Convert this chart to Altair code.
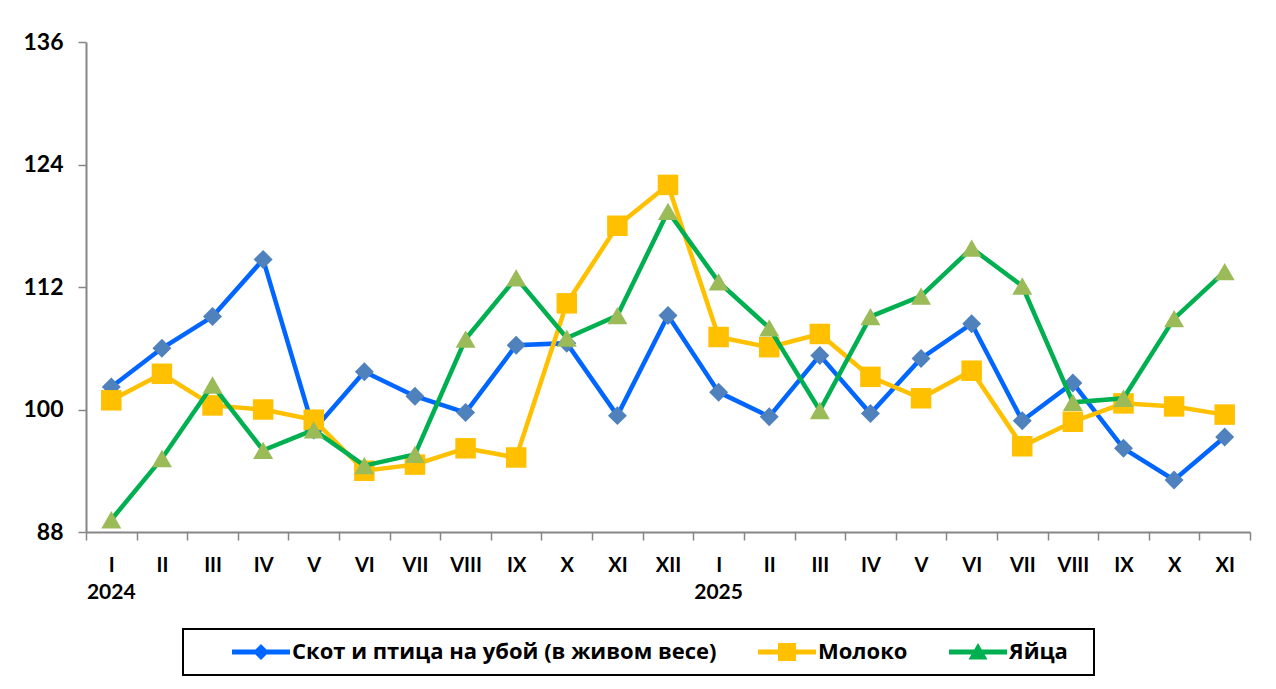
import altair as alt
import pandas as pd

months = ["I", "II", "III", "IV", "V", "VI", "VII", "VIII", "IX", "X", "XI", "XII",
          "I", "II", "III", "IV", "V", "VI", "VII", "VIII", "IX", "X", "XI"]
years = ["2024"] * 12 + ["2025"] * 11

series_names = ["Скот и птица на убой (в живом весе)", "Молоко", "Яйца"]

livestock = [102.2, 106.0, 109.1, 114.7, 98.0, 103.7, 101.3, 99.7, 106.3, 106.5, 99.4, 109.2,
             101.7, 99.3, 105.3, 99.6, 105.0, 108.4, 98.9, 102.6, 96.2, 93.1, 97.3]
milk = [100.9, 103.5, 100.4, 100.0, 99.0, 94.0, 94.6, 96.2, 95.3, 110.4, 118.0, 122.0,
        107.1, 106.1, 107.4, 103.2, 101.1, 103.8, 96.4, 98.8, 100.6, 100.3, 99.5]
eggs = [89.2, 95.2, 102.4, 96.0, 98.0, 94.5, 95.6, 106.9, 112.9, 107.0, 109.2, 119.4,
        112.5, 108.0, 99.9, 109.1, 111.1, 115.8, 112.1, 100.7, 101.1, 108.9, 113.5]

y_ticks = [88, 100, 112, 124, 136]
year_labels = ["2024", "2025"]

line_colors = ["#0066FF", "#FFC000", "#00B050"]
marker_colors = ["#4F81BD", "#FFC000", "#9BBB59"]
marker_shapes = ["diamond", "square", "triangle-up"]
marker_sizes = [360, 420, 400]
legend_paths = [
    "M2.6,-0.25H4.95L5.5,-0.8L6.05,-0.25H8.4V0.25H6.05L5.5,0.8L4.95,0.25H2.6Z",
    "M2.6,-0.25H4.6V-0.9H6.4V-0.25H8.4V0.25H6.4V0.9H4.6V0.25H2.6Z",
    "M2.6,-0.25H5.126L5.5,-0.9L5.874,-0.25H8.4V0.25H6.162L6.45,0.75H4.55L4.838,0.25H2.6Z",
]

keys = [f"{m}|{y}|{i}" for i, (m, y) in enumerate(zip(months, years))]

rows = []
for name, vals in zip(series_names, [livestock, milk, eggs]):
    for k, v in zip(keys, vals):
        rows.append({"key": k, "series": name, "value": v})
df = pd.DataFrame(rows)

year_df = pd.DataFrame({"key": [keys[0], keys[12]], "label": year_labels})

W, H = 1164, 490

x_enc = alt.X(
    "key:O",
    sort=keys,
    bandPosition=0.5,
    scale=alt.Scale(type="band", paddingInner=0, paddingOuter=0),
    axis=alt.Axis(
        title=None,
        labelExpr="datum.value ? split(datum.value, '|')[0] : ''",
        labelAngle=0,
        tickBand="extent",
        ticks=True,
        tickSize=8,
        tickColor="#868686",
        tickWidth=1.5,
        domainColor="#868686",
        domainWidth=2,
        labelFont="Lato",
        labelFontWeight="bold",
        labelFontSize=20,
        labelColor="black",
        labelPadding=15,
        grid=False,
    ),
)
y_enc = alt.Y(
    "value:Q",
    scale=alt.Scale(domain=[88, 136], nice=False, zero=False),
    axis=alt.Axis(
        title=None,
        values=y_ticks,
        tickSize=8,
        tickColor="#868686",
        tickWidth=1.5,
        domainColor="#868686",
        domainWidth=2,
        labelFont="Lato",
        labelFontWeight="bold",
        labelFontSize=23,
        labelColor="black",
        labelPadding=15,
        grid=False,
    ),
)

layers = []
for i, name in enumerate(series_names):
    base = alt.Chart(df).transform_filter(alt.datum.series == name)
    layers.append(
        base.mark_line(color=line_colors[i], strokeWidth=4.5).encode(x=x_enc, y=y_enc)
    )
    layers.append(
        base.mark_point(
            filled=True,
            shape=marker_shapes[i],
            size=marker_sizes[i],
            fill=marker_colors[i],
            opacity=1,
            strokeWidth=0,
        ).encode(x=x_enc, y=y_enc)
    )

legend_def = alt.Legend(
    title="\u2007",
    titleOrient="right",
    titlePadding=14,
    titleFontSize=22,
    orient="none",
    legendX=97,
    legendY=587,
    direction="horizontal",
    symbolSize=400,
    symbolStrokeWidth=0,
    symbolOpacity=1,
    labelOffset=75,
    columnPadding=4,
    labelFont="Open Sans",
    labelFontWeight="bold",
    labelFontSize=22,
    labelColor="black",
    labelLimit=800,
    padding=12,
    strokeColor="black",
)

legend_layer = alt.Chart(df).transform_filter("false").mark_point(filled=True).encode(
    x=x_enc,
    y=y_enc,
    color=alt.Color("series:N", scale=alt.Scale(domain=series_names, range=line_colors), legend=legend_def),
    shape=alt.Shape("series:N", scale=alt.Scale(domain=series_names, range=legend_paths), legend=legend_def),
)

year_layer = alt.Chart(year_df).mark_text(
    font="Lato", fontWeight="bold", fontSize=21, color="black", baseline="middle", align="center"
).encode(x=x_enc, y=alt.value(H + 61), text="label:N")

chart = (
    alt.layer(*layers, legend_layer, year_layer)
    .properties(
        width=W,
        height=H,
        autosize=alt.AutoSizeParams(type="none"),
        padding={"left": 78, "top": 34, "right": 15, "bottom": 146},
    )
    .configure_view(strokeWidth=0)
    .configure_legend(strokeWidth=2)
)

chart.save("out.html", embed_options={"renderer": "svg", "actions": False})
